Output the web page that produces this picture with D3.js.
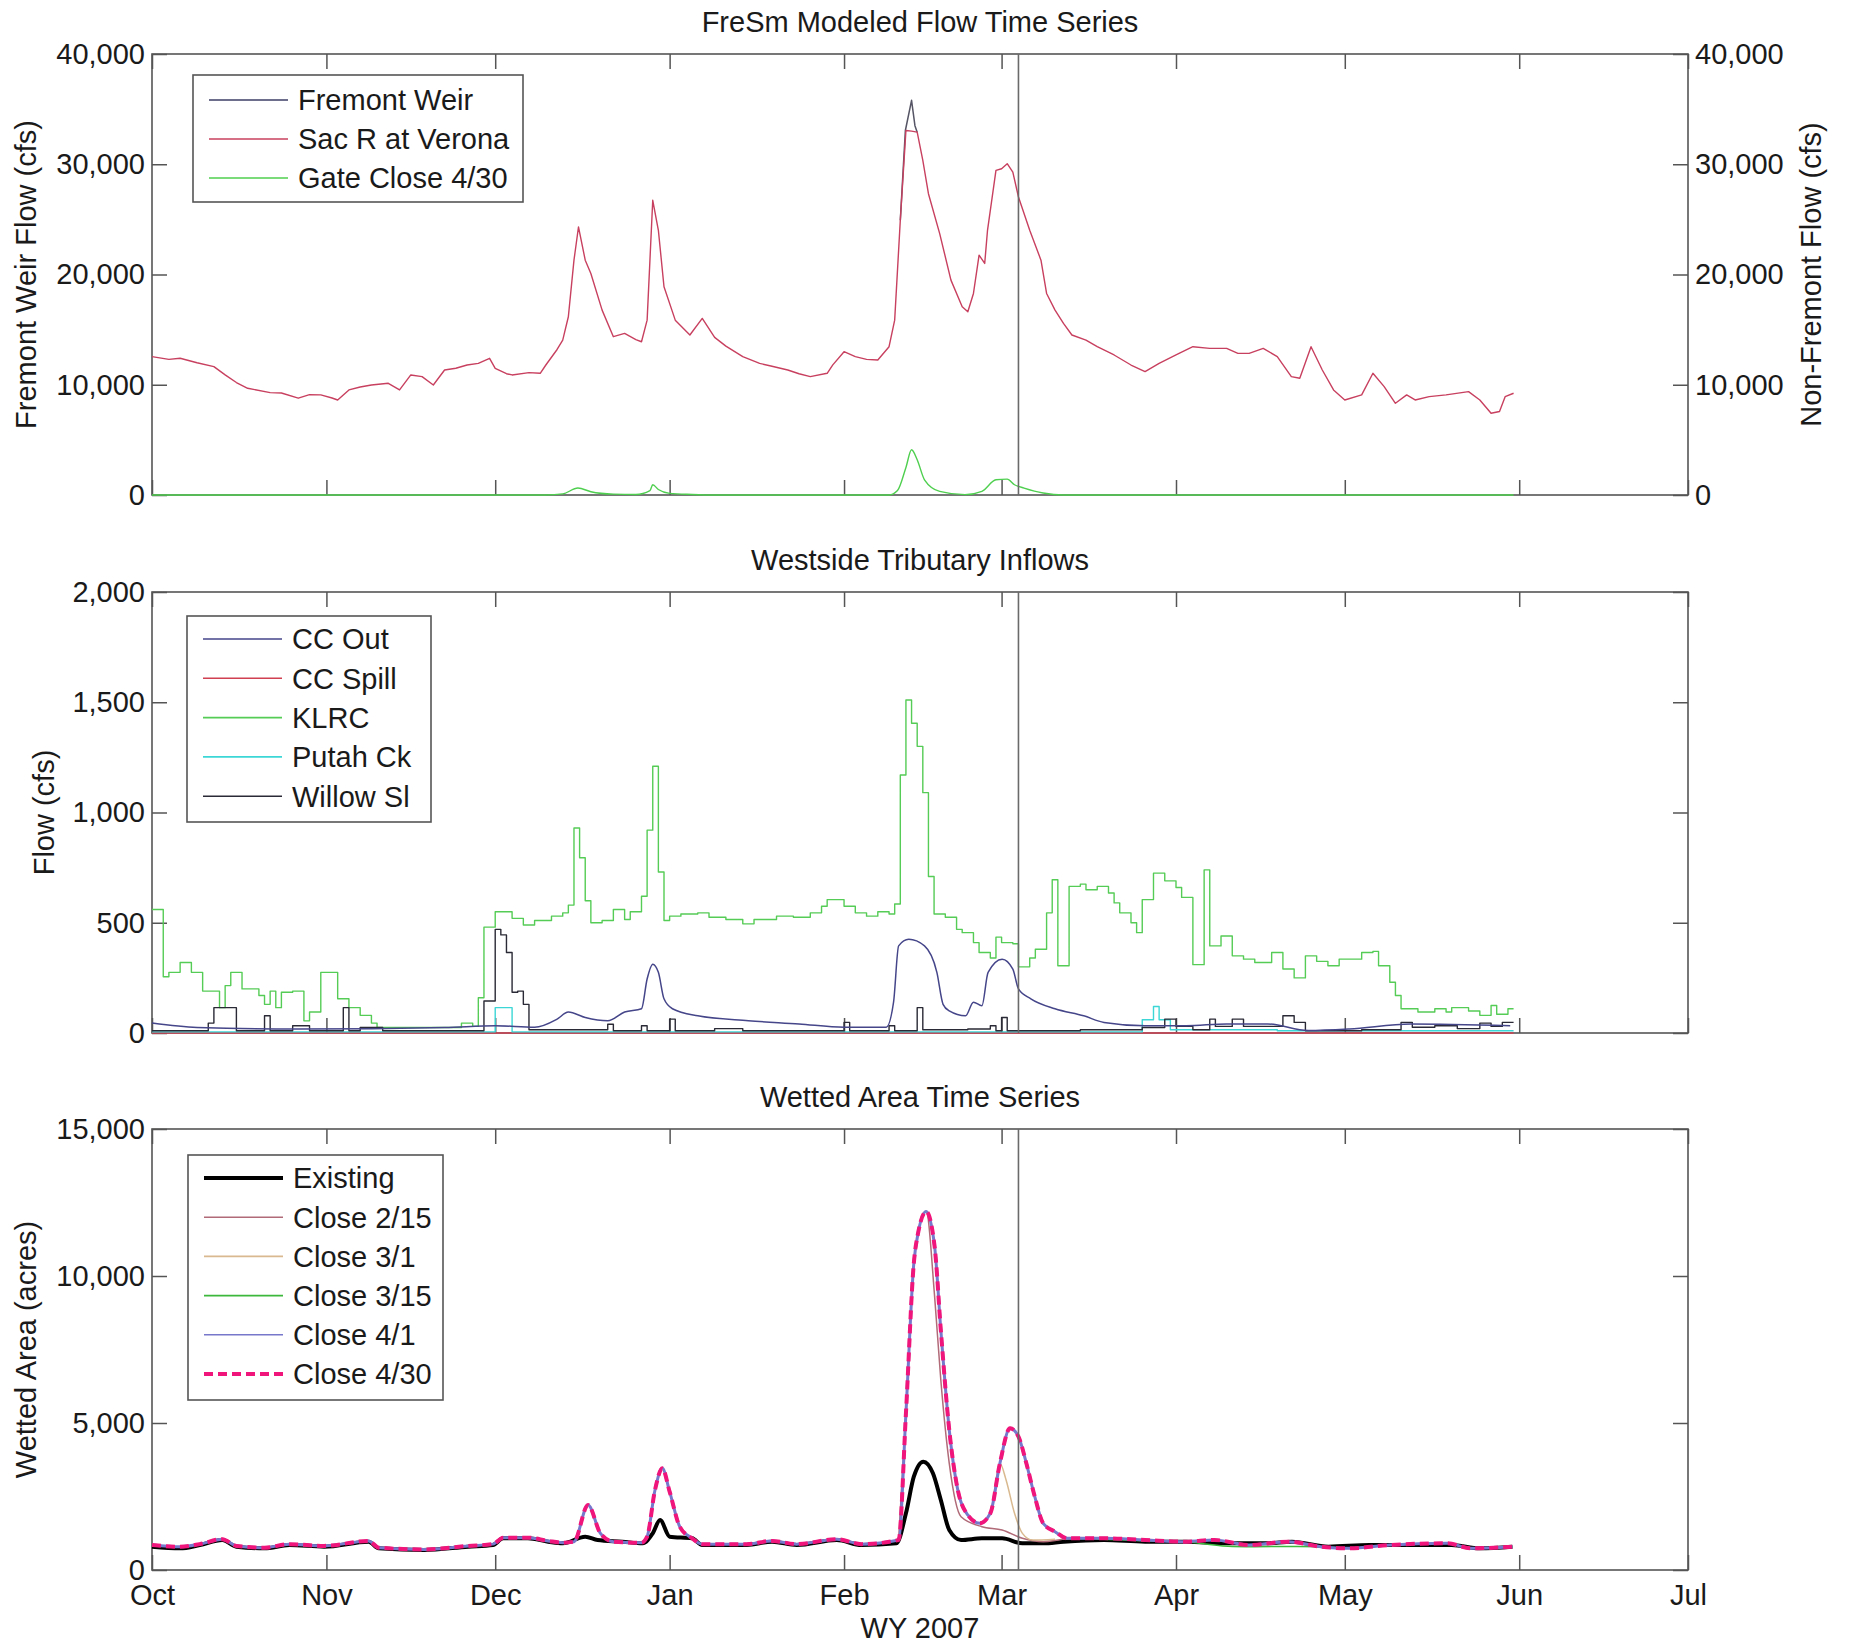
<!DOCTYPE html>
<html>
<head>
<meta charset="utf-8">
<script src="https://cdn.jsdelivr.net/npm/d3@7"></script>
<style>
  body { margin: 0; background: #fff; }
  text { font-family: "Liberation Sans", Arial, sans-serif; fill: #1a1a1a; }
</style>
</head>
<body>
<svg id="chart"></svg>
<script>
const W = 1862
const H = 1646
const left = 152, right = 1688
const panelTops = [54, 592, 1129]
const panelH = 441

// day numbers count from 1 Oct 2006
const markerDay = 154

// --- panel 1: FreSm modeled flow
const sacDays = [0,3,5,8,11,13,15,17,21,23,26,28,30,32,33,35,37,39,42,44,46,48,50,52,54,56,58,60,61,63,64,67,69,70,72,73,74,75,75.8,77,78,80,82,84,86,87,88,89,90,91,93,95.6,97.8,100,102,105,108,110,113,115,117,120,121,123,125,127,129,131,132,133,134,135,136,137,138,140,142,144,145,146,147,148,148.5,150,151,152,153,154,156,158,159,160.5,162,163.5,166,168,171,174,176.5,179,182,185,188,191,193,195,197.5,200,202.5,204,206,208,210,212,215,217,219,221,223,224.5,227,230,234,236,238,239.5,240.5,242]
const sacFlow = [12550,12300,12400,12000,11640,10900,10200,9680,9290,9250,8780,9100,9080,8800,8620,9530,9800,9980,10130,9530,10890,10740,9980,11340,11500,11790,11940,12400,11490,11000,10890,11100,11040,11790,13200,14050,16170,21300,24310,21300,20090,16770,14360,14660,14100,13900,15860,26730,24010,18890,15860,14510,16020,14300,13500,12550,11940,11700,11340,11000,10740,11040,11800,13000,12550,12300,12240,13450,15860,24920,33060,33000,32910,30350,27330,23710,19490,17080,16620,18280,21750,21000,24010,29440,29590,30050,29290,27030,24010,21300,18280,16770,15560,14510,14050,13450,12700,11790,11190,11940,12700,13450,13300,13300,12850,12850,13300,12550,10740,10590,13450,11340,9530,8620,9080,11040,9830,8320,9080,8620,8920,9080,9380,8620,7420,7570,8920,9230]
const weirDays = [133, 133.9, 135, 135.6, 136]
const weirFlow = [24920, 33060, 35800, 33500, 32910]
const gateDays = [0,70,73,75.7,78,82,86,88.5,89,90,92,96,100,131,132.5,134,135,136,137.3,140,144.5,147.5,150,152,153.3,155,158.4,162,242]
const gateFlow = [0,0,100,630,300,80,50,400,930,500,150,50,0,0,400,2500,4100,3200,1380,330,30,330,1380,1440,930,630,180,0,0]

// --- panel 2: westside tributary inflows (daily steps)
const klrcDays = [0,2,3,5,7,9,12,13,14,16,19,20,21,22,23,25,27,28,30,33,35,37,39,40,55,57,58,59,61,64,66,68,71,73,74,75,76,77,78,80,82,84,85,87,88,89,90,91,92,94,97,99,102,105,107,111,114,117,119,120,123,125,127,129,131,132,133,134,135,136,137,138,139,141,143,144,146,147,149,150,151,153,154,156,157,159,160,161,163,165,166,168,170,171,172,174,175,176,178,180,182,183,185,187,188,190,192,194,196,199,201,203,205,207,209,211,213,215,217,218,220,221,222,225,228,230,231,234,236,238,239,241,242]
const klrcFlow = [560,255,275,320,275,190,115,215,275,200,170,130,190,115,185,190,55,95,275,155,115,80,45,25,45,30,160,480,550,520,490,510,530,545,580,930,795,600,500,510,560,515,550,620,920,1210,730,510,530,540,545,525,515,495,515,530,525,545,575,605,575,545,530,550,540,585,1170,1510,1405,1300,1090,710,540,525,470,455,410,365,340,435,410,405,300,340,380,545,695,305,665,675,650,665,635,590,545,500,455,605,725,690,660,615,310,740,395,440,350,335,320,365,290,250,350,325,305,335,335,365,370,305,230,170,110,95,110,95,115,100,80,125,85,110,110]
const ccOutDays = [0,8,26,52,61,68,72,74,77,81,84,87,88,89,90,91,92.5,97,106,115,123,130.5,131.8,132.7,134.5,137.3,139.5,140.6,141.7,144.6,146,147.5,148.6,151.1,153,154,156.2,160.5,165.6,169.2,176.5,183.8,191,198.3,205.5,212.8,223.7,241.4]
const ccOutFlow = [45,25,18,25,33,26,63,95,70,55,95,110,245,312,275,155,110,78,56,41,26,26,140,395,425,395,275,130,100,78,140,124,275,335,290,200,155,110,78,48,33,33,41,41,11,18,41,33]
const ccSpillDays = [0,242]
const ccSpillFlow = [0,0]
const putahDays = [0,61,64,176,178,179,181,200,242]
const putahFlow = [5,115,5,60,120,60,15,10,10]
const willowDays = [0,10,11,15,20,21,25,28,34,35,37,41,59,61,62,63,64,65,66,67,81,82,87,88,92,93,100,105,123,124,131,132,136,137,145,149,150,151,152,165,176,180,182,185,188,189,192,194,201,203,205,215,222,224,228,232,236,238,240,242]
const willowFlow = [10,45,115,10,78,10,33,10,115,10,25,10,145,470,445,365,185,190,130,15,40,10,33,10,63,10,20,10,48,10,33,10,115,15,18,33,10,70,10,15,25,63,30,15,63,30,63,30,78,48,10,15,48,26,33,20,45,30,48,48]

// --- panel 3: wetted area (acres)
const existDays = [0,5,8.5,12.5,15,20,24.4,30.6,38.5,40.3,48.3,56.2,60.6,62.4,66.8,70.4,73,77,79.2,83.6,87.2,89,90.3,92,96,97.8,105.7,110.2,114.6,121.7,126.1,132.3,134,135.4,137.1,138.8,140.2,141.7,143.8,147.5,151.1,154.7,158.4,162,169.2,176.5,183.8,191,198,202.6,209.1,216.4,223.7,231,236,241.8]
const existArea = [794,737,850,1020,794,737,850,794,964,737,680,794,850,1077,1077,964,907,1134,1020,964,907,1247,1701,1134,1077,850,850,964,850,1020,850,907,1928,3175,3686,3289,2381,1361,1020,1077,1077,907,907,964,1020,964,964,907,907,964,794,850,850,850,737,794]
const close430Days = [0,5,8.5,12.5,15,20,24.4,30.6,38.5,40.3,48.3,56.2,60.6,62.4,66.8,70.4,73,75,77.5,79.7,82,87,88,89.4,90.7,92,93.8,96,97.8,105.7,110.2,114.6,121.7,126.1,132.7,134,135.4,136.2,137.6,139.1,140.2,141.7,143.1,145,147.1,149,150.7,152.5,154,155.4,156.9,158.4,160.5,162.7,169.2,176.5,183.8,188.8,195,202,207.7,212.8,220,230.2,234.5,241.8]
const close430Area = [850,790,880,1050,820,760,880,820,990,760,700,820,880,1100,1100,990,930,964,2211,1247,964,930,1134,2722,3459,2665,1474,1077,880,880,990,880,1050,880,1020,5330,10433,11500,12190,11000,8165,4763,2835,1871,1588,1928,3629,4820,4536,3629,2495,1588,1304,1077,1077,1020,964,1020,850,964,794,737,850,907,737,794]
const close215Days = [132.7,134,135.4,136.2,137.6,139.1,140.2,141.7,143.8,147.5,151.1,154.7,158.4,162.7]
const close215Area = [1020,5330,10433,11500,12190,9300,6464,3629,1814,1474,1361,1077,964,1077]
const close31Days = [147.1,149,150.7,151.8,153.3,154.7,156.5,160.5]
const close31Area = [1588,1928,3629,3062,1928,1247,1020,1050]
const close315Days = [160.5,162.7,169.2,176.5,183.8,186.6,192,196,201,207.7,212.8,220,230.2,234.5,241.8]
const close315Area = [1304,1077,1050,990,964,900,800,794,800,794,737,850,907,737,794]

const yTicks1 = [0, 10000, 20000, 30000, 40000]
const yTicks2 = [0, 500, 1000, 1500, 2000]
const yTicks3 = [0, 5000, 10000, 15000]

const titles = ['FreSm Modeled Flow Time Series', 'Westside Tributary Inflows', 'Wetted Area Time Series']
const yLabels = ['Fremont Weir Flow (cfs)', 'Flow (cfs)', 'Wetted Area (acres)']

const svg = d3.select('#chart').attr('width', W).attr('height', H)

const t0 = Date.UTC(2006, 9, 1)
const toDate = d => new Date(t0 + d * 864e5)
const x = d3.scaleUtc()
	.domain([new Date(t0), new Date(Date.UTC(2007, 6, 1))])
	.range([left, right])

const fmt = d3.format(',')
const axisColor = '#555'

function makePanel(i, maxY, ticks, showX) {
	const top = panelTops[i]
	const y = d3.scaleLinear().domain([0, maxY]).range([top + panelH, top])
	const g = svg.append('g')

	// box
	g.append('rect')
		.attr('x', left).attr('y', top)
		.attr('width', right - left).attr('height', panelH)
		.attr('fill', 'none').attr('stroke', axisColor).attr('stroke-width', 1.6)

	const bottom = g.append('g')
		.attr('transform', `translate(0,${top + panelH})`)
		.call(d3.axisBottom(x).ticks(d3.utcMonth.every(1)).tickSize(-15).tickPadding(14)
			.tickFormat(showX ? d3.utcFormat('%b') : ''))
	const topAxis = g.append('g')
		.attr('transform', `translate(0,${top})`)
		.call(d3.axisTop(x).ticks(d3.utcMonth.every(1)).tickSize(-15).tickFormat(''))
	const leftAxis = g.append('g')
		.attr('transform', `translate(${left},0)`)
		.call(d3.axisLeft(y).tickValues(ticks).tickSize(-15).tickPadding(7).tickFormat(fmt))
	const rightAxis = g.append('g')
		.attr('transform', `translate(${right},0)`)
		.call(d3.axisRight(y).tickValues(ticks).tickSize(-15).tickPadding(7)
			.tickFormat(i == 0 ? fmt : ''))

	;[bottom, topAxis, leftAxis, rightAxis].forEach(a => {
		a.select('.domain').remove()
		a.selectAll('line').attr('stroke', axisColor).attr('stroke-width', 1.5)
		a.selectAll('text').attr('font-size', 29).attr('fill', '#1a1a1a')
			.style('font-family', '"Liberation Sans", Arial, sans-serif')
	})

	// title
	g.append('text')
		.attr('x', (left + right) / 2).attr('y', top - 22)
		.attr('text-anchor', 'middle').attr('font-size', 29)
		.text(titles[i])

	// y label
	const lx = i == 1 ? 44 : 26
	g.append('text')
		.attr('transform', `translate(${lx},${top + panelH / 2}) rotate(-90)`)
		.attr('text-anchor', 'middle').attr('dy', '0.35em').attr('font-size', 29)
		.text(yLabels[i])

	return { g, y }
}

function drawLine(g, y, days, vals, color, width, curve, dash) {
	const pts = days.map((d, k) => [toDate(d), vals[k]])
	const line = d3.line()
		.x(p => x(p[0]))
		.y(p => y(p[1]))
		.curve(curve || d3.curveLinear)
	const path = g.append('path')
		.attr('d', line(pts))
		.attr('fill', 'none')
		.attr('stroke', color)
		.attr('stroke-width', width)
		.attr('stroke-linejoin', 'round')
	if (dash) path.attr('stroke-dasharray', dash)
	return path
}

function marker(g, i) {
	const top = panelTops[i]
	g.append('line')
		.attr('x1', x(toDate(markerDay))).attr('x2', x(toDate(markerDay)))
		.attr('y1', top).attr('y2', top + panelH)
		.attr('stroke', '#6a6a6a').attr('stroke-width', 1.6)
}

function legend(g, bx, by, bw, bh, rows, rowY0, gap) {
	g.append('rect')
		.attr('x', bx).attr('y', by).attr('width', bw).attr('height', bh)
		.attr('fill', '#fff').attr('stroke', '#555').attr('stroke-width', 1.6)
	rows.forEach((r, k) => {
		const yy = rowY0 + k * gap
		const l = g.append('line')
			.attr('x1', bx + 16).attr('x2', bx + 95)
			.attr('y1', yy).attr('y2', yy)
			.attr('stroke', r.color).attr('stroke-width', r.width || 1.6)
		if (r.dash) l.attr('stroke-dasharray', r.dash)
		g.append('text')
			.attr('x', bx + 105).attr('y', yy).attr('dy', '0.36em')
			.attr('font-size', 29)
			.text(r.name)
	})
}

// colours
const cWeir = '#3c3c66'
const cSac = '#c8405f'
const cGate = '#4fcf4f'
const cOut = '#45458a'
const cSpill = '#d04050'
const cKlrc = '#55cc55'
const cPutah = '#3cd6d6'
const cWillow = '#2a2a36'
const cExist = '#000'
const c215 = '#b06a78'
const c31 = '#d9b98f'
const c315 = '#3cb83c'
const c41 = '#7777cc'
const c430 = '#f0157a'

// panel 1
const p1 = makePanel(0, 40000, yTicks1, false)
drawLine(p1.g, p1.y, weirDays, weirFlow, '#555566', 1.5)
drawLine(p1.g, p1.y, sacDays, sacFlow, cSac, 1.4)
drawLine(p1.g, p1.y, gateDays, gateFlow, cGate, 1.4, d3.curveMonotoneX)
marker(p1.g, 0)
legend(p1.g, 193, 75, 330, 127, [
	{ name: 'Fremont Weir', color: cWeir },
	{ name: 'Sac R at Verona', color: cSac },
	{ name: 'Gate Close 4/30', color: cGate }
], 100, 39)

// panel 2
const p2 = makePanel(1, 2000, yTicks2, false)
drawLine(p2.g, p2.y, ccSpillDays, ccSpillFlow, cSpill, 1.4, d3.curveStepAfter)
drawLine(p2.g, p2.y, putahDays, putahFlow, cPutah, 1.4, d3.curveStepAfter)
drawLine(p2.g, p2.y, klrcDays, klrcFlow, cKlrc, 1.4, d3.curveStepAfter)
drawLine(p2.g, p2.y, willowDays, willowFlow, cWillow, 1.4, d3.curveStepAfter)
drawLine(p2.g, p2.y, ccOutDays, ccOutFlow, cOut, 1.5, d3.curveMonotoneX)
marker(p2.g, 1)
legend(p2.g, 187, 616, 244, 206, [
	{ name: 'CC Out', color: cOut },
	{ name: 'CC Spill', color: cSpill },
	{ name: 'KLRC', color: cKlrc },
	{ name: 'Putah  Ck', color: cPutah },
	{ name: 'Willow Sl', color: cWillow }
], 639, 39.3)

// panel 3
const p3 = makePanel(2, 15000, yTicks3, true)
drawLine(p3.g, p3.y, existDays, existArea, cExist, 4, d3.curveMonotoneX)
drawLine(p3.g, p3.y, close215Days, close215Area, c215, 1.5, d3.curveMonotoneX)
drawLine(p3.g, p3.y, close31Days, close31Area, c31, 1.5, d3.curveMonotoneX)
drawLine(p3.g, p3.y, close315Days, close315Area, c315, 1.5, d3.curveMonotoneX)
// Close 4/1 sits right under Close 4/30 in the picture
drawLine(p3.g, p3.y, close430Days, close430Area, c41, 3, d3.curveMonotoneX)
drawLine(p3.g, p3.y, close430Days, close430Area, c430, 4, d3.curveMonotoneX, '9,5')
marker(p3.g, 2)
legend(p3.g, 188, 1155, 255, 245, [
	{ name: 'Existing', color: cExist, width: 4 },
	{ name: 'Close 2/15', color: c215 },
	{ name: 'Close 3/1', color: c31 },
	{ name: 'Close 3/15', color: c315 },
	{ name: 'Close 4/1', color: c41 },
	{ name: 'Close 4/30', color: c430, width: 4, dash: '9,5' }
], 1178, 39.2)

// right axis label, panel 1
svg.append('text')
	.attr('transform', `translate(1811,${panelTops[0] + panelH / 2}) rotate(-90)`)
	.attr('text-anchor', 'middle').attr('dy', '0.35em').attr('font-size', 29)
	.text('Non-Fremont Flow (cfs)')

// x title
svg.append('text')
	.attr('x', (left + right) / 2).attr('y', 1638)
	.attr('text-anchor', 'middle').attr('font-size', 29)
	.text('WY 2007')
</script>
</body>
</html>
